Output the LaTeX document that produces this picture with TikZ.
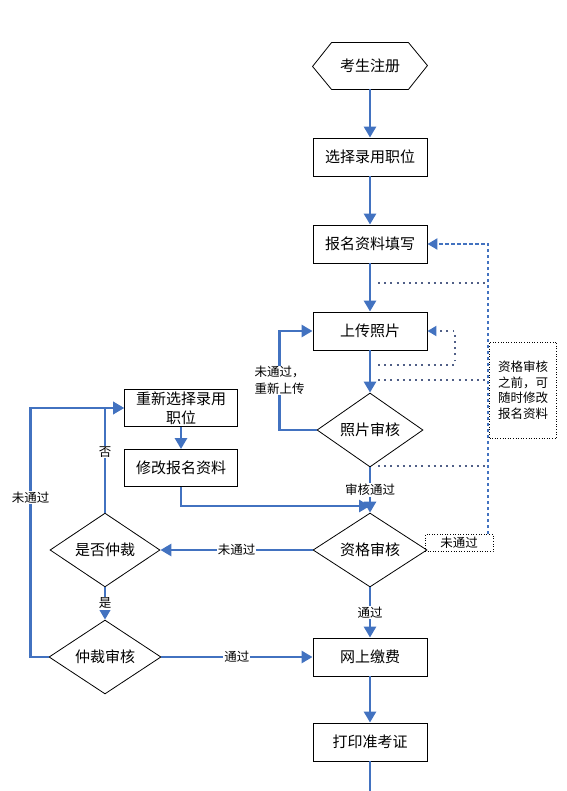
\documentclass[tikz,border=0pt]{standalone}
\usepackage{fontspec}
\usepackage{tikz}
\usetikzlibrary{shapes.geometric,arrows.meta}
\newfontfamily\cjk{Noto Sans CJK SC}
\definecolor{flowblue}{RGB}{66,114,192}
\definecolor{dotgray}{RGB}{80,95,135}

\begin{document}
\begin{tikzpicture}[x=1pt,y=-1pt,
		box/.style={draw, line width=0.9pt, minimum width=114pt, minimum height=38pt, inner sep=0pt, align=center, font=\cjk\fontsize{15}{19}\selectfont},
		dia/.style={draw, diamond, line width=0.8pt, minimum width=110pt, minimum height=56pt, inner sep=0pt, font=\cjk\fontsize{15}{19}\selectfont},
		flow/.style={draw=flowblue, line width=2.9pt, -{Triangle[length=11pt,width=12pt]}},
		lbl/.style={fill=white, inner sep=1pt, align=center, font=\cjk\fontsize{12.5}{16.5}\selectfont},
		dotline/.style={draw=dotgray, line width=1.9pt, dash pattern=on 1.9pt off 4.3pt},
		bluedash/.style={draw=flowblue, line width=2.2pt, dash pattern=on 3.5pt off 2.5pt}]
		\useasboundingbox (0,0) rectangle (566,791);

		% main column
		\node[box, draw=none, minimum width=76pt, minimum height=46pt] (reg) at (370,66) {考生注册};
		\draw[line width=0.8pt] (reg.north west) -- (reg.north east) -- ++(19,23) -- (reg.south east) -- (reg.south west) -- ++(-19,-23) -- cycle;
		\node[box] (job) at (370,157) {选择录用职位};
		\node[box] (fill) at (370,244) {报名资料填写};
		\node[box] (photo) at (370,331) {上传照片};
		\node[dia, minimum width=106pt, minimum height=55pt] (pchk) at (370,430) {照片审核};
		\node[dia, minimum width=114pt, minimum height=55pt] (qchk) at (370,550) {资格审核};
		\node[box] (pay) at (370,657) {网上缴费};
		\node[box] (print) at (370,742) {打印准考证};

		% left branch
		\node[box, minimum width=113pt, minimum height=37pt] (rechoose) at (181,408) {重新选择录用\\职位};
		\node[box, minimum width=113pt, minimum height=37pt] (edit) at (181,468) {修改报名资料};
		\node[dia] (arb) at (105,550) {是否仲裁};
		\node[dia, minimum width=112pt, minimum height=58pt] (arbchk) at (105,657) {仲裁审核};

		% notes on the right
		\node[draw, dotted, line width=0.6pt, minimum width=67pt, minimum height=96pt, inner sep=0pt, align=center, font=\cjk\fontsize{12.5}{15.5}\selectfont] (note) at (523,390) {资格审核\\之前，可\\随时修改\\报名资料};
		\node[draw, dotted, line width=0.6pt, minimum width=68pt, minimum height=17pt, inner sep=0pt, font=\cjk\fontsize{12.5}{15}\selectfont] (fail) at (459,543) {未通过};

		\draw[flow] (reg) -- (job);
		\draw[flow] (job) -- (fill);
		\draw[flow] (fill) -- (photo);
		\draw[flow] (photo) -- (pchk);
		\draw[flow] (pchk.west) -- ++(-37,0) |- node[lbl, pos=0.25] {未通过，\\重新上传} (photo.west);
		\draw[flow] (pchk) -- node[lbl] {审核通过} (qchk);
		\coordinate (join) at (370,506);
		\draw[flow] (edit.south) |- (join);
		\draw[flow] (qchk) -- node[lbl] {未通过} (arb);
		\draw[flow] (arb.north) |- node[lbl, pos=0.29] {否} (rechoose.west);
		\draw[flow] (arbchk.west) -- ++(-18,0) |- node[lbl, pos=0.32] {未通过} (rechoose.west);
		\draw[flow] (rechoose) -- (edit);
		\draw[flow] (arb) -- node[lbl] {是} (arbchk);
		\draw[flow] (arbchk) -- node[lbl] {通过} (pay);
		\draw[flow] (qchk) -- node[lbl] {通过} (pay);
		\draw[flow] (pay) -- (print);
		\coordinate (bottom) at (370,791);
		\draw[flow, -] (print) -- (bottom);

		% dotted marks, edits allowed before the check
		\foreach \yy in {283,380,466}
			\draw[dotline] (378,\yy) -- (488,\yy);
		\draw[dotline, -{Triangle[length=9pt,width=10pt,color=flowblue]}] (378,365) -| (455,331) -- (photo.east);
		\draw[bluedash, -{Triangle[length=10pt,width=11pt]}] ([xshift=-5pt]fail.north east) |- (fill.east);
	\end{tikzpicture}
\end{document}
